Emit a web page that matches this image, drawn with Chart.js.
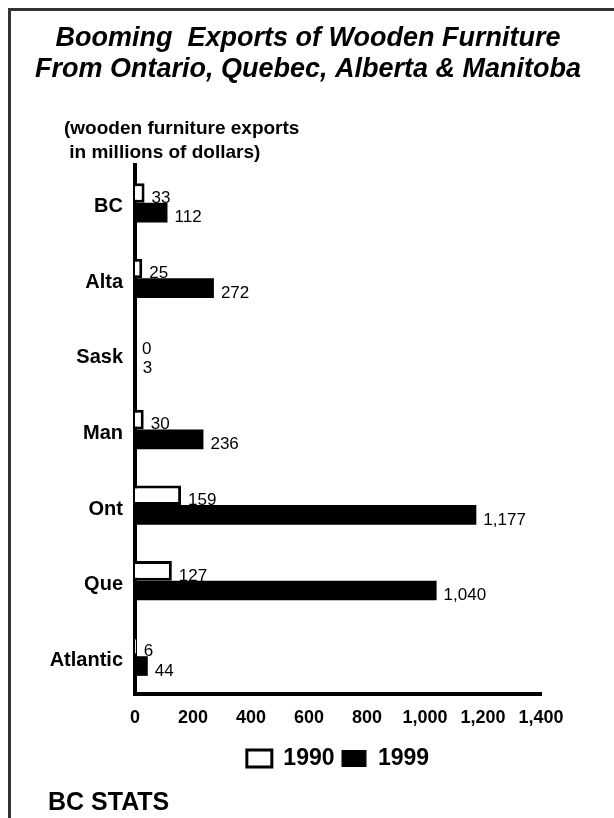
<!DOCTYPE html>
<html>
<head>
<meta charset="utf-8">
<title>Wooden furniture exports</title>
<script src="https://cdn.jsdelivr.net/npm/chart.js@4"></script>
<style>
  html, body { margin: 0; padding: 0; background: #fff; }
  #wrap { position: relative; width: 614px; height: 818px; }
</style>
</head>
<body>
<div id="wrap"><canvas id="exportsChart"></canvas></div>
<script>
const provinces = ['BC', 'Alta', 'Sask', 'Man', 'Ont', 'Que', 'Atlantic'];
const exports1990 = [33, 25, 0, 30, 159, 127, 6];
const exports1999 = [112, 272, 3, 236, 1177, 1040, 44];
const seriesNames = ['1990', '1999'];
const axisMax = 1400;
const axisStep = 200;

const titleLines = ['Booming  Exports of Wooden Furniture', 'From Ontario, Quebec, Alberta & Manitoba'];
const unitLines = ['(wooden furniture exports', ' in millions of dollars)'];
const sourceText = 'BC STATS';

const fontFamily = "'Liberation Sans', Arial, Helvetica, sans-serif";
const fmt = v => Number(v).toLocaleString('en-US');

// frame, heading, unit note and source line
const decorations = {
    id: 'decorations',
    beforeDraw(chart) {
        const ctx = chart.ctx;
        ctx.save();
        ctx.strokeStyle = '#333';
        ctx.lineWidth = 3;
        ctx.beginPath();
        ctx.moveTo(9.5, 818);
        ctx.lineTo(9.5, 9.5);
        ctx.lineTo(614, 9.5);
        ctx.stroke();

        ctx.fillStyle = '#000';
        ctx.textAlign = 'center';
        ctx.textBaseline = 'alphabetic';
        ctx.font = `italic bold 27px ${fontFamily}`;
        ctx.fillText(titleLines[0], 308, 46);
        ctx.fillText(titleLines[1], 308, 77);

        ctx.textAlign = 'left';
        ctx.font = `bold 19px ${fontFamily}`;
        ctx.fillText(unitLines[0], 64, 134);
        ctx.fillText(unitLines[1], 64, 158);

        ctx.font = `bold 25px ${fontFamily}`;
        ctx.fillText(sourceText, 48, 810);
        ctx.restore();
    }
};

// value labels to the right of each bar
const valueLabels = {
    id: 'valueLabels',
    afterDatasetsDraw(chart) {
        const ctx = chart.ctx;
        ctx.save();
        ctx.fillStyle = '#000';
        ctx.font = `17px ${fontFamily}`;
        ctx.textAlign = 'left';
        ctx.textBaseline = 'middle';
        chart.data.datasets.forEach((ds, i) => {
            chart.getDatasetMeta(i).data.forEach((bar, j) => {
                ctx.fillText(fmt(ds.data[j]), bar.x + 7, bar.y + 5);
            });
        });
        ctx.restore();
    }
};

new Chart(document.getElementById('exportsChart'), {
    type: 'bar',
    data: {
        labels: provinces,
        datasets: [
            {
                label: seriesNames[0],
                data: exports1990,
                backgroundColor: '#fff',
                borderColor: '#000',
                borderWidth: 3
            },
            {
                label: seriesNames[1],
                data: exports1999,
                backgroundColor: '#000',
                borderColor: '#000',
                borderWidth: 0
            }
        ]
    },
    options: {
        indexAxis: 'y',
        responsive: true,
        maintainAspectRatio: false,
        animation: false,
        datasets: {
            bar: { categoryPercentage: 0.52, barPercentage: 1.0 }
        },
        layout: {
            padding: { top: 165, left: 0, right: 73, bottom: 38 }
        },
        scales: {
            x: {
                min: 0,
                max: axisMax,
                grid: { display: false, drawTicks: false },
                border: { display: true, color: '#000', width: 4 },
                ticks: {
                    stepSize: axisStep,
                    autoSkip: false,
                    maxRotation: 0,
                    padding: 13,
                    color: '#000',
                    font: { family: fontFamily, size: 18, weight: 'bold' },
                    callback: v => fmt(v)
                },
                afterFit: scale => { scale.height = 46; }
            },
            y: {
                grid: { display: false, drawTicks: false },
                border: { display: true, color: '#000', width: 4 },
                ticks: {
                    padding: 12,
                    labelOffset: 4,
                    color: '#000',
                    font: { family: fontFamily, size: 20, weight: 'bold' }
                },
                afterFit: scale => { scale.width = 135; }
            }
        },
        plugins: {
            title: { display: false },
            tooltip: { enabled: false },
            legend: {
                position: 'bottom',
                fullSize: false,
                labels: {
                    color: '#000',
                    boxWidth: 25,
                    boxHeight: 17,
                    padding: 7,
                    font: { family: fontFamily, size: 23, weight: 'bold' }
                }
            }
        }
    },
    plugins: [decorations, valueLabels]
});
</script>
</body>
</html>
